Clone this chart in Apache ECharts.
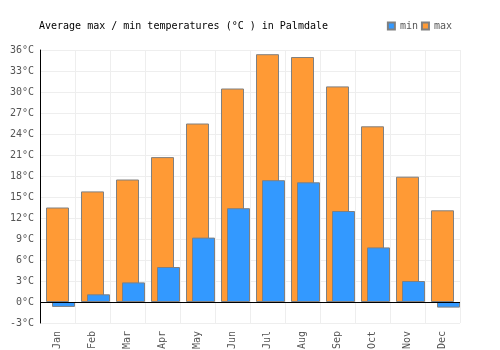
<!DOCTYPE html>
<html>
<head>
<meta charset="utf-8">
<script src="https://cdn.jsdelivr.net/npm/echarts@6/dist/echarts.min.js"></script>
<style>
  html, body { margin: 0; padding: 0; background: #fff; }
  #main { width: 500px; height: 350px; }
</style>
</head>
<body>
<div id="main"></div>
<script>
const months = ["Jan", "Feb", "Mar", "Apr", "May", "Jun", "Jul", "Aug", "Sep", "Oct", "Nov", "Dec"];
const maxTemps = [13.5, 15.8, 17.5, 20.7, 25.5, 30.5, 35.4, 35.0, 30.8, 25.1, 17.9, 13.1];
const minTemps = [-0.7, 1.1, 2.8, 5.0, 9.2, 13.4, 17.4, 17.1, 13.0, 7.8, 3.0, -0.8];

const font = "DejaVu Sans Mono";
const myChart = echarts.init(document.getElementById("main"));

const option = {
  animation: false,
  title: {
    text: "Average max / min temperatures (°C ) in Palmdale",
    left: 34,
    top: 16,
    textStyle: { fontFamily: font, fontSize: 10, fontWeight: "normal", color: "#000" }
  },
  legend: {
    data: ["min", "max"],
    right: 43,
    top: 16,
    itemWidth: 7,
    itemHeight: 7,
    itemGap: 3,
    icon: "rect",
    textStyle: { fontFamily: font, fontSize: 10, color: "#555" }
  },
  grid: { left: 40, right: 40, top: 50, bottom: 27, containLabel: false, outerBoundsMode: "none" },
  xAxis: [
    {
      type: "category",
      data: months,
      axisLine: { show: false },
      axisTick: { show: false },
      splitLine: { show: true, lineStyle: { color: "#eeeeee" } },
      axisLabel: { rotate: 90, fontFamily: font, fontSize: 10, color: "#555", margin: 8 }
    },
    {
      type: "category",
      data: months,
      show: false
    }
  ],
  yAxis: {
    type: "value",
    min: -3,
    max: 36,
    interval: 3,
    axisLine: { show: true, lineStyle: { color: "#000" } },
    axisTick: { show: false },
    splitLine: { lineStyle: { color: "#eeeeee" } },
    axisLabel: { formatter: "{value}°C", fontFamily: font, fontSize: 10, color: "#555", margin: 6 }
  },
  series: [
    {
      name: "max",
      type: "bar",
      xAxisIndex: 0,
      barWidth: 23,
      data: maxTemps,
      itemStyle: { color: "#ff9a35", borderColor: "#808080", borderWidth: 1 },
      markLine: {
        silent: true,
        symbol: "none",
        label: { show: false },
        lineStyle: { color: "#000", type: "solid", width: 1 },
        data: [{ yAxis: 0 }]
      }
    },
    {
      // spacer that pushes the min bars to the right in each month
      name: "spacer",
      type: "bar",
      xAxisIndex: 1,
      barWidth: 12,
      barGap: 0,
      data: []
    },
    {
      name: "min",
      type: "bar",
      xAxisIndex: 1,
      barWidth: 23,
      barGap: 0,
      data: minTemps,
      itemStyle: { color: "#3399ff", borderColor: "#808080", borderWidth: 1 }
    }
  ]
};
myChart.setOption(option);
</script>
</body>
</html>
